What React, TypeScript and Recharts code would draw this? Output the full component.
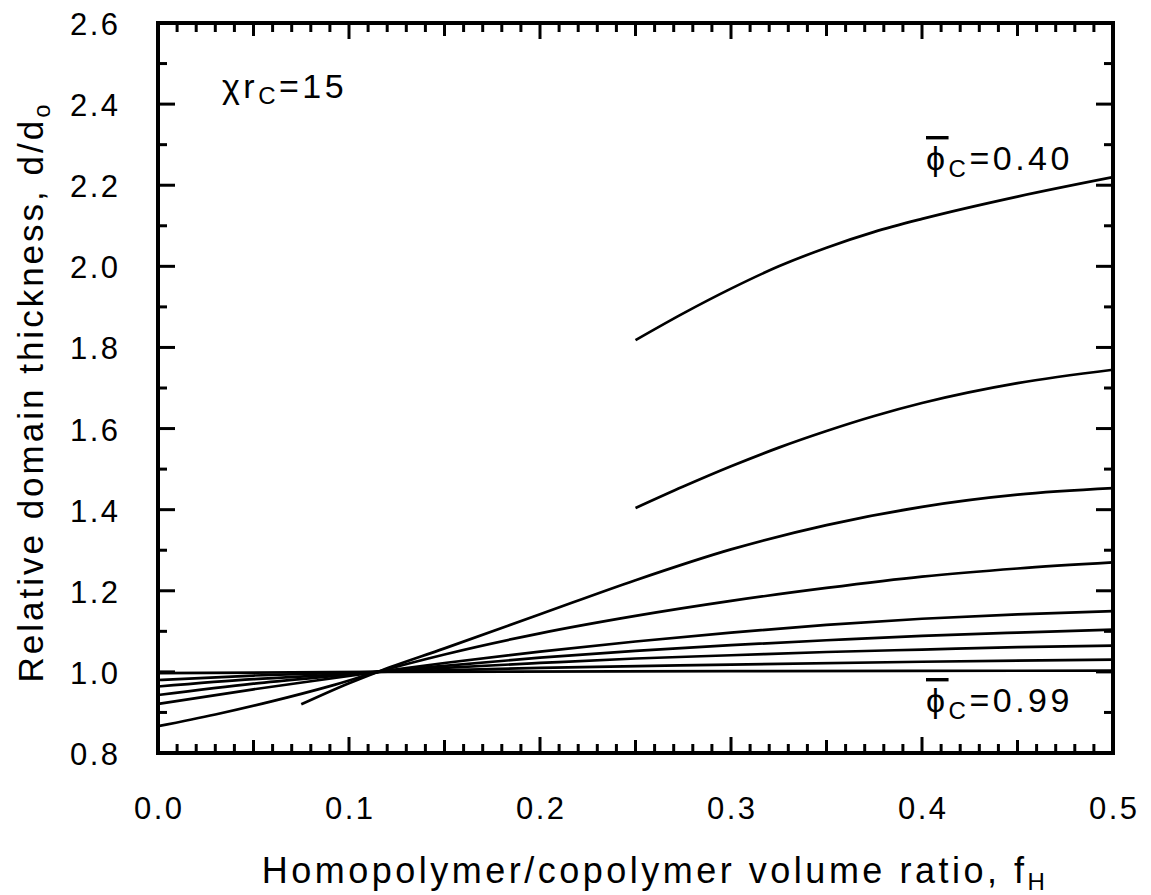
import React from 'react';
import { LineChart, Line, XAxis, YAxis } from 'recharts';

// ---- data (f_H, d/d0) ----
const fA = [0.25, 0.275, 0.3, 0.325, 0.35, 0.375, 0.4, 0.45, 0.5];
const dA = [1.818, 1.884, 1.945, 2.0, 2.046, 2.085, 2.117, 2.172, 2.22];

const fB = [0.25, 0.275, 0.3, 0.325, 0.35, 0.375, 0.4, 0.45, 0.5];
const dB = [1.404, 1.457, 1.507, 1.553, 1.594, 1.631, 1.663, 1.712, 1.745];

const fC = [0.075, 0.1, 0.115, 0.15, 0.2, 0.25, 0.3, 0.35, 0.4, 0.45, 0.5];
const dC = [0.92, 0.972, 1.0, 1.058, 1.142, 1.226, 1.302, 1.362, 1.407, 1.437, 1.453];

const fD = [0, 0.03, 0.06, 0.09, 0.115, 0.15, 0.2, 0.25, 0.3, 0.35, 0.4, 0.45, 0.5];
const dD = [0.866, 0.895, 0.928, 0.965, 1.0, 1.043, 1.095, 1.138, 1.175, 1.207, 1.235, 1.255, 1.27];

const fE = [0, 0.05, 0.1, 0.115, 0.15, 0.2, 0.25, 0.3, 0.35, 0.4, 0.45, 0.5];
const dE = [0.921, 0.957, 0.99, 1.0, 1.022, 1.05, 1.075, 1.097, 1.116, 1.131, 1.142, 1.15];

const fF = [0, 0.05, 0.1, 0.115, 0.15, 0.2, 0.25, 0.3, 0.35, 0.4, 0.45, 0.5];
const dF = [0.943, 0.971, 0.993, 1.0, 1.015, 1.035, 1.052, 1.066, 1.078, 1.089, 1.097, 1.104];

const fG = [0, 0.05, 0.1, 0.115, 0.15, 0.2, 0.25, 0.3, 0.35, 0.4, 0.45, 0.5];
const dG = [0.964, 0.982, 0.995, 1.0, 1.01, 1.022, 1.033, 1.041, 1.049, 1.055, 1.061, 1.065];

const fH = [0, 0.05, 0.1, 0.115, 0.2, 0.3, 0.4, 0.5];
const dH = [0.98, 0.991, 0.998, 1.0, 1.01, 1.018, 1.025, 1.03];

const fI = [0, 0.115, 0.3, 0.5];
const dI = [0.997, 1.0, 1.002, 1.003];

const X_TICKS = [
  0, 0.01, 0.02, 0.03, 0.04, 0.05, 0.06, 0.07, 0.08, 0.09,
  0.1, 0.11, 0.12, 0.13, 0.14, 0.15, 0.16, 0.17, 0.18, 0.19,
  0.2, 0.21, 0.22, 0.23, 0.24, 0.25, 0.26, 0.27, 0.28, 0.29,
  0.3, 0.31, 0.32, 0.33, 0.34, 0.35, 0.36, 0.37, 0.38, 0.39,
  0.4, 0.41, 0.42, 0.43, 0.44, 0.45, 0.46, 0.47, 0.48, 0.49, 0.5,
];
const Y_TICKS = [0.8, 0.9, 1.0, 1.1, 1.2, 1.3, 1.4, 1.5, 1.6, 1.7, 1.8, 1.9, 2.0, 2.1, 2.2, 2.3, 2.4, 2.5, 2.6];

const toData = (f: number[], d: number[]) => f.map((v, i) => ({ f: v, d: d[i] }));
const SERIES = [
  toData(fA, dA), toData(fB, dB), toData(fC, dC), toData(fD, dD), toData(fE, dE),
  toData(fF, dF), toData(fG, dG), toData(fH, dH), toData(fI, dI),
];

const FONT = "'Liberation Sans', Arial, Helvetica, sans-serif";
const TICK_FS = 31;
const TICK_LS = 2.5;

const xLen = (v: number) => {
  const k = Math.round(v * 100);
  return k % 10 === 0 ? 16 : k % 5 === 0 ? 13 : 9;
};
const yLen = (v: number) => {
  const k = Math.round(v * 10);
  return k % 2 === 0 ? 17 : 9;
};

const BottomTick = (props: any) => {
  const { x, y, payload } = props;
  const v = payload.value;
  const k = Math.round(v * 100);
  return (
    <g>
      <line x1={x} y1={y} x2={x} y2={y - xLen(v)} stroke="#000" strokeWidth={3} />
      {k % 10 === 0 ? (
        <text x={x + TICK_LS / 2} y={y + 66} textAnchor="middle" fontSize={TICK_FS}
          fontFamily={FONT} letterSpacing={TICK_LS} fill="#000">{v.toFixed(1)}</text>
      ) : null}
    </g>
  );
};
const TopTick = (props: any) => {
  const { x, y, payload } = props;
  return <line x1={x} y1={y} x2={x} y2={y + xLen(payload.value)} stroke="#000" strokeWidth={3} />;
};
const LeftTick = (props: any) => {
  const { x, y, payload } = props;
  const v = payload.value;
  const k = Math.round(v * 10);
  return (
    <g>
      <line x1={x} y1={y} x2={x + yLen(v)} y2={y} stroke="#000" strokeWidth={3} />
      {k % 2 === 0 ? (
        <text x={x - 40 + TICK_LS} y={y + 12} textAnchor="end" fontSize={TICK_FS}
          fontFamily={FONT} letterSpacing={TICK_LS} fill="#000">{v.toFixed(1)}</text>
      ) : null}
    </g>
  );
};
const RightTick = (props: any) => {
  const { x, y, payload } = props;
  return <line x1={x} y1={y} x2={x - yLen(payload.value)} y2={y} stroke="#000" strokeWidth={3} />;
};

const axisLine = { stroke: '#000', strokeWidth: 4, strokeLinecap: 'square' as const };

export default function App() {
  return (
    <div style={{ position: 'absolute', left: 0, top: 0, width: 1151, height: 895, background: '#fff' }}>
      <LineChart width={1151} height={895} margin={{ top: 13, right: 28, bottom: 82, left: 98 }}>
        <XAxis xAxisId="b" dataKey="f" type="number" domain={[0, 0.5]} ticks={X_TICKS} interval={0}
          orientation="bottom" height={60} tickSize={0} tickMargin={0} tickLine={false}
          axisLine={axisLine} tick={BottomTick} allowDataOverflow />
        <XAxis xAxisId="t" dataKey="f" type="number" domain={[0, 0.5]} ticks={X_TICKS} interval={0}
          orientation="top" height={10} tickSize={0} tickMargin={0} tickLine={false}
          axisLine={axisLine} tick={TopTick} allowDataOverflow />
        <YAxis yAxisId="l" type="number" domain={[0.8, 2.6]} ticks={Y_TICKS} interval={0}
          orientation="left" width={60} tickSize={0} tickMargin={0} tickLine={false}
          axisLine={axisLine} tick={LeftTick} allowDataOverflow />
        <YAxis yAxisId="r" type="number" domain={[0.8, 2.6]} ticks={Y_TICKS} interval={0}
          orientation="right" width={10} tickSize={0} tickMargin={0} tickLine={false}
          axisLine={axisLine} tick={RightTick} allowDataOverflow />
        {SERIES.map((data, i) => (
          <Line key={i} xAxisId="b" yAxisId="l" data={data} dataKey="d" type="monotone"
            dot={false} activeDot={false} stroke="#000" strokeWidth={2.7} isAnimationActive={false} />
        ))}
      </LineChart>
      <svg width={1151} height={895} style={{ position: 'absolute', left: 0, top: 0, pointerEvents: 'none' }}
        fontFamily={FONT} fill="#000">
        <text x={655} y={883} textAnchor="middle" fontSize={36} letterSpacing={3.5}>
          Homopolymer/copolymer volume ratio, f<tspan dy={7} fontSize={24}>H</tspan>
        </text>
        <text transform="rotate(-90)" x={-392} y={43} textAnchor="middle" fontSize={35} letterSpacing={3}>
          Relative domain thickness, d/d<tspan dy={7} fontSize={24}>o</tspan>
        </text>
        <text x={222} y={98} fontSize={34} letterSpacing={3.5}>
          χr<tspan dy={6} fontSize={24}>C</tspan><tspan dy={-6}>=15</tspan>
        </text>
        <text x={926} y={170} fontSize={34} letterSpacing={3.5}>
          <tspan textDecoration="overline">ϕ</tspan><tspan dy={7} fontSize={24}>C</tspan><tspan dy={-7}>=0.40</tspan>
        </text>
        <text x={926} y={712} fontSize={34} letterSpacing={3.5}>
          <tspan textDecoration="overline">ϕ</tspan><tspan dy={7} fontSize={24}>C</tspan><tspan dy={-7}>=0.99</tspan>
        </text>
      </svg>
    </div>
  );
}
